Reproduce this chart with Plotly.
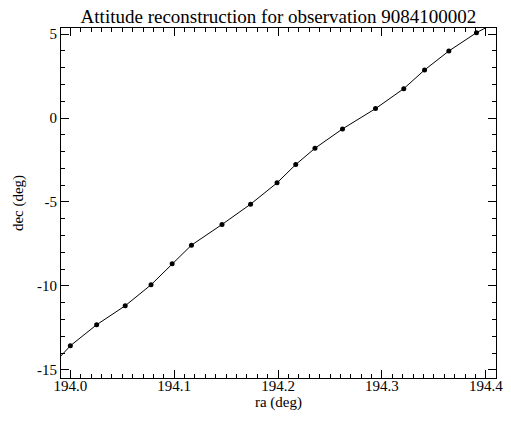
import plotly.graph_objects as go

ra = [193.974, 194.000, 194.0253, 194.0528, 194.0777, 194.098, 194.1166, 194.146,
      194.1735, 194.199, 194.217, 194.2355, 194.262, 194.2938, 194.321, 194.341,
      194.3644, 194.391, 194.418]
dec = [-15.30, -13.56, -12.31, -11.18, -9.93, -8.68, -7.57, -6.34,
       -5.13, -3.86, -2.77, -1.80, -0.65, 0.56, 1.75, 2.86,
       3.99, 5.08, 5.97]

x_ticks = [194.0, 194.1, 194.2, 194.3, 194.4]
x_labels = ["194.0", "194.1", "194.2", "194.3", "194.4"]
y_ticks = [-15, -10, -5, 0, 5]
y_labels = ["-15", "-10", "-5", "0", "5"]

title = "Attitude reconstruction for observation 9084100002"

fig = go.Figure()
fig.add_trace(go.Scatter(
    x=ra, y=dec, mode="lines+markers",
    line=dict(color="black", width=1),
    marker=dict(color="black", size=5),
    showlegend=False,
))

font = dict(family="Liberation Serif", color="black")

axis_common = dict(
    showgrid=False, zeroline=False, showline=True, linecolor="black", linewidth=1,
    mirror="allticks", ticks="inside", ticklen=8, tickwidth=1, tickcolor="black",
    tickfont=dict(size=15, **font),
)

fig.update_layout(
    width=511, height=422, autosize=False,
    margin=dict(l=61, r=8, t=28, b=44),
    paper_bgcolor="white", plot_bgcolor="white",
    font=dict(size=15, **font),
    title=dict(text=title, x=0.5, xref="paper", xanchor="center", y=0.962, yanchor="middle",
               font=dict(size=19, **font)),
    xaxis=dict(range=[193.991, 194.4098], tickvals=x_ticks, ticktext=x_labels,
               ticklabelstandoff=-6,
               title=dict(text="ra (deg)", font=dict(size=15, **font), standoff=2),
               minor=dict(dtick=0.01, ticks="inside", ticklen=4, tickcolor="black"),
               **axis_common),
    yaxis=dict(range=[-15.48, 5.36], tickvals=y_ticks, ticktext=y_labels,
               title=dict(text="dec (deg)", font=dict(size=15, **font), standoff=9),
               minor=dict(dtick=1, ticks="inside", ticklen=4, tickcolor="black"),
               **axis_common),
)

fig.write_html("out.html", config={"displayModeBar": False, "responsive": False},
               post_script="document.body.style.margin='0';document.body.style.overflow='hidden';")
